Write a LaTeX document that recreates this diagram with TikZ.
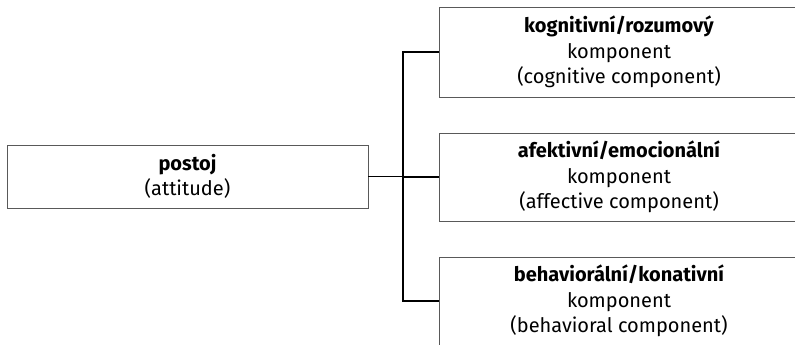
\documentclass[tikz,border=0pt]{standalone}
\usepackage{fontspec}
\setmainfont{Fira Sans}
\begin{document}
\begin{tikzpicture}[x=1pt,y=-1pt,
  box/.style={draw=black!65, line width=0.9pt, align=center, inner sep=0pt,
    font=\fontsize{20}{25.5}\selectfont},
  conn/.style={draw=black, line width=1.3pt}]
\clip (0,0) rectangle (795,345);
\useasboundingbox (0,0) rectangle (795,345);
\node[box, minimum width=361pt, minimum height=63pt] (p) at (187.5,176.5) {\textbf{postoj}\\(attitude)};
\node[box, minimum width=360pt, minimum height=90pt] (k) at (619,52) {\textbf{kognitivní/rozumový}\\komponent\\(cognitive component)};
\node[box, minimum width=360pt, minimum height=88pt] (a) at (619,177) {\textbf{afektivní/emocionální}\\komponent\\(affective component)};
\node[box, minimum width=360pt, minimum height=88pt] (b) at (619,301) {\textbf{behaviorální/konativní}\\komponent\\(behavioral component)};
\coordinate (j) at (403,176.5);
\draw[conn] (p.east) -- (j);
\draw[conn] (j) |- (k.west);
\draw[conn] (j) |- (a.west);
\draw[conn] (j) |- (b.west);
\end{tikzpicture}
\end{document}
